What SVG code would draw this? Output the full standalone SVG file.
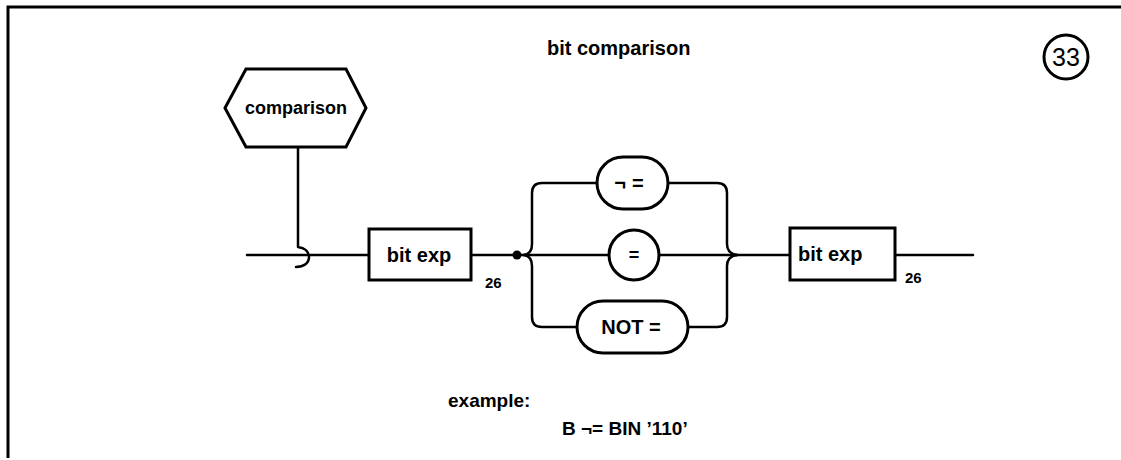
<svg xmlns="http://www.w3.org/2000/svg" width="1121" height="460" viewBox="0 0 1121 460">
<style>
.ln{fill:none;stroke:#000;stroke-width:2.5;stroke-linecap:round;stroke-linejoin:round}
.bx{fill:#fff;stroke:#000;stroke-width:3}
.t{font-family:"Liberation Sans",Arial,sans-serif;font-weight:bold;fill:#000}
</style>
<rect x="0" y="0" width="1121" height="460" fill="#fff"/>
<g id="frame">
<path d="M8,458 V7 H1121" fill="none" stroke="#000" stroke-width="3"/>
</g>
<text class="t" x="547" y="55" font-size="20">bit comparison</text>
<g id="number">
<circle cx="1066" cy="57" r="22" fill="none" stroke="#000" stroke-width="3"/>
<text x="1066" y="66" font-size="25" text-anchor="middle" font-family="Liberation Sans,Arial,sans-serif">33</text>
</g>
<g id="connectors">
<path class="ln" d="M298,147 V247 C305,248 309,252 309,257 C309,263 304,267 296,267"/>
<path class="ln" d="M247,255 H369"/>
<path class="ln" d="M471,255 H609"/>
<path class="ln" d="M659,255 H790"/>
<path class="ln" d="M895,255 H973"/>
<path class="ln" d="M524,255 C530,254 532,250 532,244 V193 Q532,183 542,183 H597"/>
<path class="ln" d="M524,255 C530,256 532,260 532,266 V317 Q532,327 542,327 H577"/>
<path class="ln" d="M668,183 H717 Q727,183 727,193 V244 C727,250 730,254 737,255"/>
<path class="ln" d="M688,327 H717 Q727,327 727,317 V266 C727,260 730,256 737,255"/>
<circle cx="517" cy="255" r="4.5" fill="#000"/>
</g>
<g id="comparison">
<polygon class="bx" points="225,108 246,69 346,69 366,108 346,147 246,147"/>
<text class="t" x="296" y="114" font-size="18" text-anchor="middle">comparison</text>
</g>
<g id="bitexp1">
<rect class="bx" x="369" y="229" width="102" height="51"/>
<text class="t" x="419" y="262" font-size="20" text-anchor="middle">bit exp</text>
<text class="t" x="485" y="288" font-size="15">26</text>
</g>
<g id="notequal">
<rect class="bx" x="597" y="157" width="71" height="52" rx="26"/>
<text class="t" x="632" y="190" font-size="20" text-anchor="middle" letter-spacing="6">¬=</text>
</g>
<g id="equal">
<circle class="bx" cx="634" cy="255" r="25"/>
<text class="t" x="634" y="261" font-size="18" text-anchor="middle">=</text>
</g>
<g id="notword">
<rect class="bx" x="577" y="301" width="111" height="52" rx="26"/>
<text class="t" x="631" y="334" font-size="20" text-anchor="middle">NOT =</text>
</g>
<g id="bitexp2">
<rect class="bx" x="790" y="228" width="105" height="52"/>
<text class="t" x="798" y="261" font-size="20">bit exp</text>
<text class="t" x="905" y="283" font-size="15">26</text>
</g>
<g id="example">
<text class="t" x="448" y="407" font-size="19">example:</text>
<text class="t" x="562" y="435" font-size="19">B ¬= BIN ’110’</text>
</g>
</svg>
